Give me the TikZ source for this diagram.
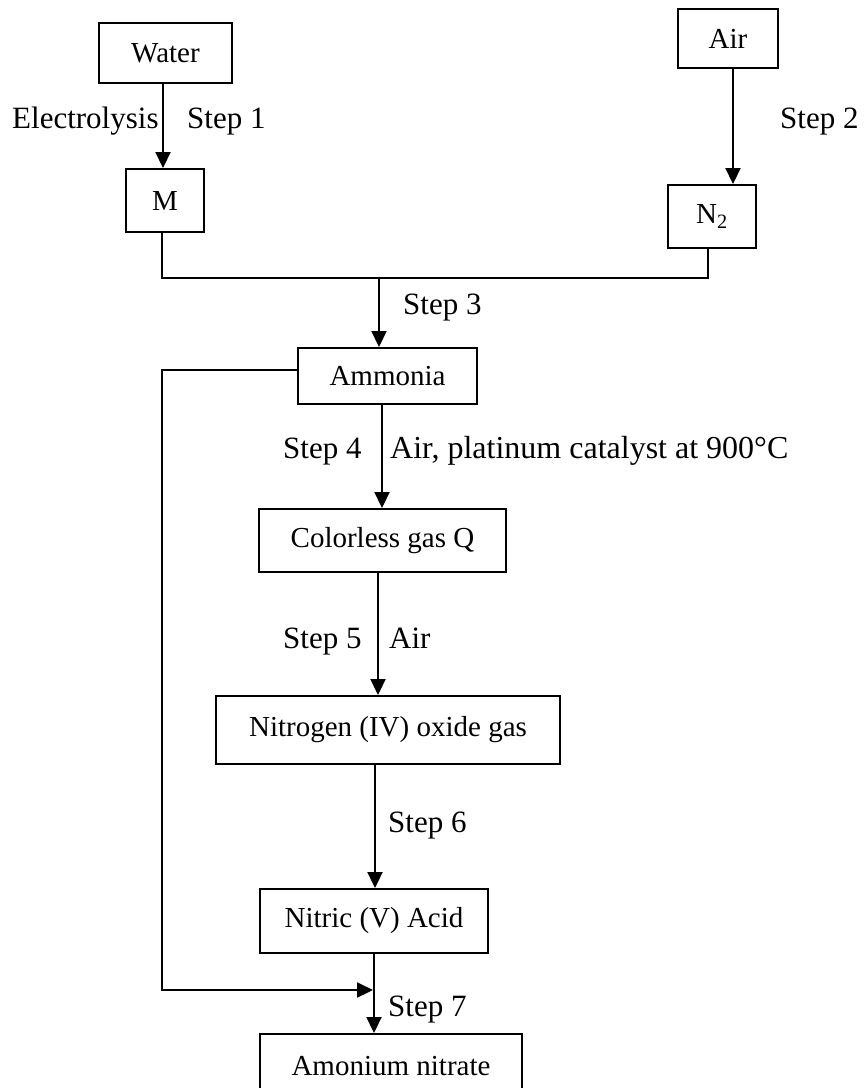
\documentclass[tikz,border=0pt]{standalone}
\usepackage{fontspec}
\setmainfont{Liberation Serif}
\usetikzlibrary{arrows.meta}
\begin{document}
\begin{tikzpicture}[x=1pt,y=-1pt,
  every node/.style={font=\fontsize{29}{34}\selectfont},
  box/.style={draw,line width=2pt,inner sep=0pt,anchor=north west},
  lbl/.style={anchor=base west,inner sep=0pt,font=\fontsize{31}{36}\selectfont},
  conn/.style={line width=2.2pt},
  arr/.style={line width=2.2pt,-{Triangle[width=15pt,length=16pt]}}]
\useasboundingbox (0,0) rectangle (864,1088);
% boxes
\node[box,minimum width=133pt,minimum height=60pt] (water) at (98,22) {Water};
\node[box,minimum width=100pt,minimum height=59pt] (air) at (677,8) {Air};
\node[box,minimum width=78pt,minimum height=63pt] (m) at (125,168) {M};
\node[box,minimum width=88pt,minimum height=63pt] (n2) at (667,184) {N\textsubscript{2}};
\node[box,minimum width=179pt,minimum height=56pt] (ammonia) at (297,347) {Ammonia};
\node[box,minimum width=247pt,minimum height=63pt] (q) at (258,508) {Colorless gas Q};
\node[box,minimum width=344pt,minimum height=68pt] (no2) at (215,695) {Nitrogen (IV) oxide gas};
\node[box,minimum width=228pt,minimum height=64pt] (hno3) at (259,888) {Nitric (V) Acid};
\node[box,minimum width=262pt,minimum height=64pt] (an) at (259,1033) {Amonium nitrate};
% labels
\node[lbl] (l1a) at (12,128) {Electrolysis};
\node[lbl] (l1b) at (187,128) {Step 1};
\node[lbl] (l2) at (780,128) {Step 2};
\node[lbl] (l3) at (403,314) {Step 3};
\node[lbl] (l4a) at (283,458) {Step 4};
\node[lbl,font=\fontsize{32}{37}\selectfont] (l4b) at (390,458) {Air, platinum catalyst at 900°C};
\node[lbl] (l5a) at (283,648) {Step 5};
\node[lbl] (l5b) at (389,648) {Air};
\node[lbl] (l6) at (388,832) {Step 6};
\node[lbl] (l7) at (388,1016) {Step 7};
% connectors
\draw[arr] ([xshift=-2.5pt]water.south) -- ([xshift=-2.5pt]water.south |- m.north);
\draw[arr] ([xshift=5pt]air.south) -- ([xshift=5pt]air.south |- n2.north);
\coordinate (j) at ([xshift=-8.5pt]ammonia.north |- 0,278);
\draw[conn] ([xshift=-3pt]m.south) |- (j);
\draw[conn] ([xshift=-4pt]n2.south) |- (j);
\draw[arr] (j) -- ([xshift=-8.5pt]ammonia.north);
\draw[arr] ([xshift=-5.5pt]ammonia.south) -- ([xshift=-5.5pt]ammonia.south |- q.north);
\draw[arr] ([xshift=-4.5pt]q.south) -- ([xshift=-4.5pt]q.south |- no2.north);
\draw[arr] ([xshift=-13pt]no2.south) -- ([xshift=-13pt]no2.south |- hno3.north);
\draw[arr] (hno3.south) -- (hno3.south |- an.north);
\coordinate (k) at ([xshift=-1pt]hno3.south |- 0,990);
\draw[arr] ([yshift=6pt]ammonia.west) -| ([xshift=-3pt]m.south |- k) -- (k);
\end{tikzpicture}
\end{document}
